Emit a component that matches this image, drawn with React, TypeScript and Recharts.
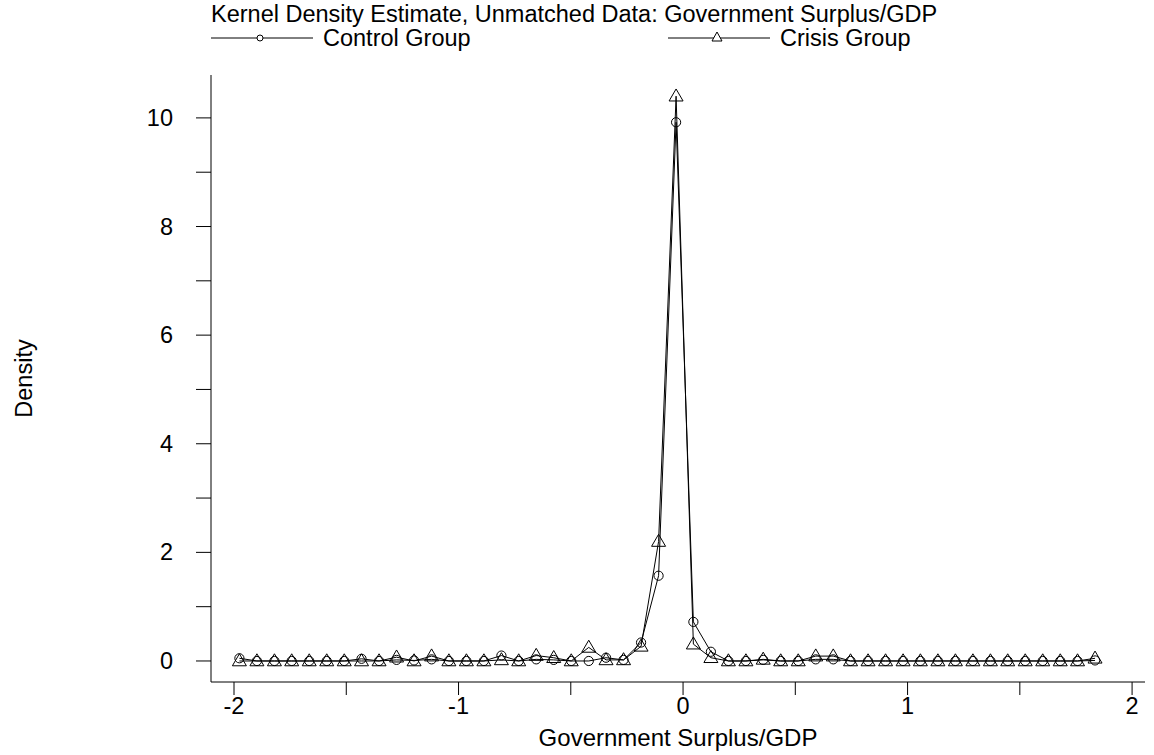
import { LineChart, Line, XAxis, YAxis } from "recharts"

// evaluation grid of the kernel density estimate
const gridPoints = [
  -1.976, -1.898, -1.82, -1.743, -1.665, -1.587, -1.509, -1.432, -1.354, -1.276,
  -1.198, -1.12, -1.043, -0.965, -0.887, -0.809, -0.732, -0.654, -0.576, -0.498,
  -0.42, -0.343, -0.265, -0.187, -0.109, -0.031, 0.046, 0.124, 0.202, 0.28,
  0.357, 0.435, 0.513, 0.591, 0.669, 0.746, 0.824, 0.902, 0.98, 1.057,
  1.135, 1.213, 1.291, 1.369, 1.446, 1.524, 1.602, 1.68, 1.757, 1.835,
]

const controlDensity = [
  0.05, 0, 0, 0, 0, 0, 0, 0.04, 0, 0.02,
  0.01, 0.03, 0, 0, 0, 0.1, 0, 0.03, 0.02, 0,
  0, 0.06, 0.02, 0.34, 1.57, 9.92, 0.72, 0.17, 0, 0,
  0.02, 0, 0, 0.03, 0.03, 0, 0, 0, 0, 0,
  0, 0, 0, 0, 0, 0, 0, 0, 0, 0.01,
]

const crisisDensity = [
  0, 0, 0, 0, 0, 0, 0, 0, 0, 0.07,
  0, 0.09, 0, 0, 0, 0.02, 0, 0.1, 0.06, 0,
  0.25, 0.02, 0.02, 0.27, 2.2, 10.4, 0.31, 0.06, 0, 0,
  0.03, 0, 0, 0.09, 0.09, 0, 0, 0, 0, 0,
  0, 0, 0, 0, 0, 0, 0, 0, 0, 0.05,
]

const xTicks = [-2, -1.5, -1, -0.5, 0, 0.5, 1, 1.5, 2]
const yTicks = [0, 1, 2, 3, 4, 5, 6, 7, 8, 9, 10]

const chartTitle = "Kernel Density Estimate, Unmatched Data: Government Surplus/GDP"
const seriesNames = ["Control Group", "Crisis Group"]

const FONT = "'Liberation Sans', Arial, Helvetica, sans-serif"
const FONT_SIZE = 23.5

const data = gridPoints.map((x, i) => ({
  x,
  control: controlDensity[i],
  crisis: crisisDensity[i],
}))

function CircleDot(props: any) {
  const { cx, cy } = props
  if (cx == null || cy == null) return null
  return <circle cx={cx} cy={cy} r={4.6} fill="none" stroke="#000" strokeWidth={1} />
}

function TriangleDot(props: any) {
  const { cx, cy } = props
  if (cx == null || cy == null) return null
  const h = 12
  const w = 14
  const pts = `${cx},${cy - h * 0.6} ${cx - w / 2},${cy + h * 0.4} ${cx + w / 2},${cy + h * 0.4}`
  return <polygon points={pts} fill="none" stroke="#000" strokeWidth={1} />
}

function XTick(props: any) {
  const { x, y, payload } = props
  if (!Number.isInteger(payload.value)) return null
  return (
    <text x={x} y={y + 17} textAnchor="middle" fontFamily={FONT} fontSize={FONT_SIZE} fill="#000">
      {payload.value}
    </text>
  )
}

function YTick(props: any) {
  const { x, y, payload } = props
  if (payload.value % 2 !== 0) return null
  return (
    <text x={x - 21} y={y + 8} textAnchor="end" fontFamily={FONT} fontSize={FONT_SIZE} fill="#000">
      {payload.value}
    </text>
  )
}

function LegendKey({ marker }: { marker: "circle" | "triangle" }) {
  return (
    <svg width={102} height={20} style={{ display: "block" }}>
      <line x1={0} y1={10} x2={102} y2={10} stroke="#000" strokeWidth={1} />
      {marker === "circle" ? (
        <circle cx={49} cy={10} r={3} fill="#fff" stroke="#000" />
      ) : (
        <polygon points="49,4 44,13 54,13" fill="#fff" stroke="#000" />
      )}
    </svg>
  )
}

export default function App() {
  return (
    <div style={{ position: "absolute", left: 0, top: 0, width: 1154, height: 755, background: "#fff" }}>
      <div
        style={{
          position: "absolute",
          left: 211,
          top: 2,
          fontFamily: FONT,
          fontSize: FONT_SIZE,
          lineHeight: "24px",
          color: "#000",
          whiteSpace: "nowrap",
        }}
      >
        {chartTitle}
      </div>
      {seriesNames.map((name, i) => (
        <div
          key={name}
          style={{
            position: "absolute",
            left: i === 0 ? 211 : 668,
            top: 26,
            display: "flex",
            alignItems: "center",
            gap: 10,
            fontFamily: FONT,
            fontSize: FONT_SIZE,
            lineHeight: "24px",
            whiteSpace: "nowrap",
          }}
        >
          <LegendKey marker={i === 0 ? "circle" : "triangle"} />
          <span>{name}</span>
        </div>
      ))}
      <LineChart width={1154} height={755} data={data} margin={{ top: 75, right: 9, bottom: 0, left: 0 }}>
        <XAxis
          dataKey="x"
          type="number"
          domain={[-2.1025, 2.0575]}
          allowDataOverflow
          ticks={xTicks}
          interval={0}
          tickSize={13}
          height={73}
          stroke="#000"
          tickLine={{ stroke: "#000" }}
          tick={<XTick />}
          label={{
            value: "Government Surplus/GDP",
            position: "insideBottom",
            offset: 9,
            fill: "#000",
            fontFamily: FONT,
            fontSize: 24,
          }}
        />
        <YAxis
          type="number"
          domain={[-0.387, 10.79]}
          allowDataOverflow
          ticks={yTicks}
          interval={0}
          tickSize={15}
          width={211}
          stroke="#000"
          tickLine={{ stroke: "#000" }}
          tick={<YTick />}
          label={{
            value: "Density",
            angle: -90,
            position: "insideLeft",
            offset: 24,
            fill: "#000",
            fontFamily: FONT,
            fontSize: FONT_SIZE,
            style: { textAnchor: "middle" },
          }}
        />
        <Line
          dataKey="control"
          name={seriesNames[0]}
          stroke="#000"
          strokeWidth={1}
          dot={<CircleDot />}
          activeDot={false}
          isAnimationActive={false}
        />
        <Line
          dataKey="crisis"
          name={seriesNames[1]}
          stroke="#000"
          strokeWidth={1}
          dot={<TriangleDot />}
          activeDot={false}
          isAnimationActive={false}
        />
      </LineChart>
    </div>
  )
}
